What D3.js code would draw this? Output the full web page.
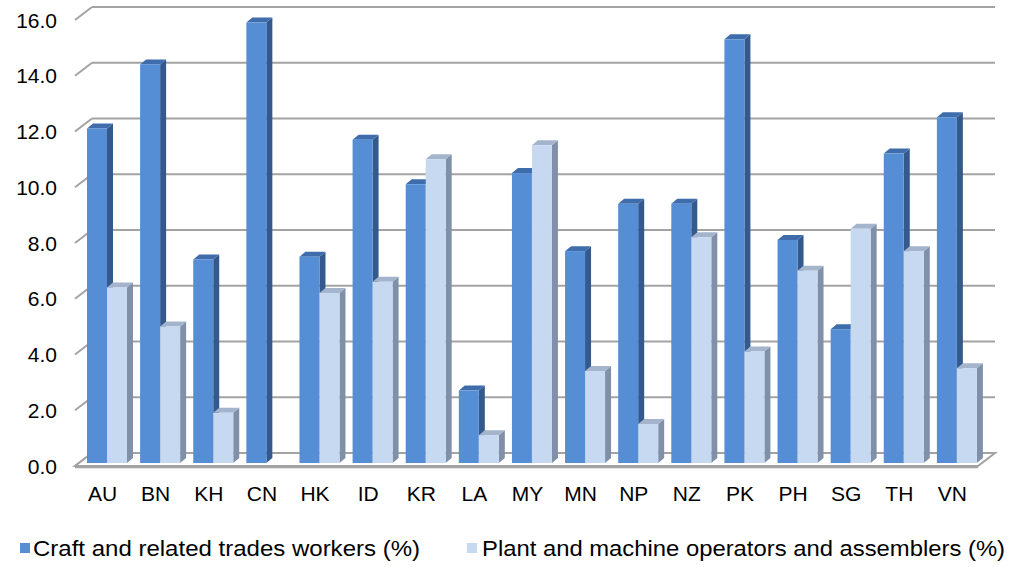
<!DOCTYPE html>
<html><head><meta charset="utf-8">
<script src="https://cdn.jsdelivr.net/npm/d3@7"></script>
<style>body{margin:0;background:#fff}svg{display:block}text{font-family:"Liberation Sans",Arial,sans-serif;fill:#000}</style>
</head><body>
<svg id="c" width="1011" height="567"></svg>
<script>
const categories = ["AU","BN","KH","CN","HK","ID","KR","LA","MY","MN","NP","NZ","PK","PH","SG","TH","VN"];
const craft = [12.0,14.3,7.3,15.8,7.4,11.6,10.0,2.6,10.4,7.6,9.3,9.3,15.2,8.0,4.8,11.1,12.4];
const plant = [6.3,4.9,1.8,null,6.1,6.5,10.9,1.0,11.4,3.3,1.4,8.1,4.0,6.9,8.4,7.6,3.4];
const seriesNames = ["Craft and related trades workers (%)","Plant and machine operators and assemblers (%)"];
const yTicks = [0,2,4,6,8,10,12,14,16];

const svg = d3.select("#c");
const X0 = 75, X1 = 978, Y0 = 466, Y16 = 20;
const D = {dx:17, dy:-13};          // wall depth
const B0 = {dx:4, dy:-3};           // bar front depth
const BD = {dx:6, dy:-5};           // bar depth
const x = d3.scaleBand().domain(categories).range([X0, X1]);
const y = d3.scaleLinear().domain([0,16]).range([Y0, Y16]);
const inner = d3.scaleBand().domain([0,1]).range([8, 48]);

const colors = [
  {front:"#558ED5", side:"#34598C", top:"#3F6CAB"},
  {front:"#C6D9F1", side:"#8090A8", top:"#A3B4CC"}
];

// gridlines (back wall) + left wall diagonals
const g = svg.append("g");
yTicks.forEach(v => {
  g.append("line").attr("x1", X0+D.dx).attr("x2", X1+D.dx)
    .attr("y1", y(v)+D.dy).attr("y2", y(v)+D.dy)
    .attr("stroke", "#a3a3a3").attr("stroke-width", 2);
  g.append("line").attr("x1", X0).attr("x2", X0+D.dx)
    .attr("y1", y(v)).attr("y2", y(v)+D.dy)
    .attr("stroke", "#a3a3a3").attr("stroke-width", 2);
  g.append("text").attr("x", 57).attr("y", y(v)).attr("dy", "0.36em")
    .attr("text-anchor", "end").style("font-size", "21px").text(v.toFixed(1));
});
// floor
g.append("path")
  .attr("d", `M${X0},${Y0}L${X1},${Y0}L${X1+D.dx},${Y0+D.dy}L${X0+D.dx},${Y0+D.dy}Z`)
  .attr("fill", "#fff").attr("stroke", "#a3a3a3").attr("stroke-width", 2);
g.append("line").attr("x1", X0).attr("x2", X1).attr("y1", Y0+1).attr("y2", Y0+1)
  .attr("stroke", "#a3a3a3").attr("stroke-width", 2.5);

// bars
const bars = svg.append("g");
const bw = inner.bandwidth();
categories.forEach((c, i) => {
  [craft[i], plant[i]].forEach((v, s) => {
    if (v == null) return;
    const xl = x(c) + inner(s) + B0.dx, xr = xl + bw;
    const yb = y(0) + B0.dy, yt = y(v) + B0.dy;
    const col = colors[s];
    bars.append("path").attr("fill", col.side)
      .attr("d", `M${xr},${yb}L${xr+BD.dx},${yb+BD.dy}L${xr+BD.dx},${yt+BD.dy}L${xr},${yt}Z`);
    bars.append("path").attr("fill", col.top)
      .attr("d", `M${xl},${yt}L${xr},${yt}L${xr+BD.dx},${yt+BD.dy}L${xl+BD.dx},${yt+BD.dy}Z`);
    bars.append("rect").attr("fill", col.front)
      .attr("x", xl).attr("y", yt).attr("width", bw).attr("height", yb - yt);
  });
});

// category labels
svg.append("g").selectAll("text").data(categories).join("text")
  .attr("x", d => x(d) + x.bandwidth()/2 + 1).attr("y", 501)
  .attr("text-anchor", "middle").style("font-size", "21px").text(d => d);

// legend
const leg = [{mx:20, tx:33, tw:387}, {mx:467, tx:482, tw:523}];
seriesNames.forEach((n, s) => {
  svg.append("rect").attr("x", leg[s].mx).attr("y", 543).attr("width", 10).attr("height", 10)
    .attr("fill", colors[s].front);
  svg.append("text").attr("x", leg[s].tx).attr("y", 556).style("font-size", "22px")
    .attr("textLength", leg[s].tw).attr("lengthAdjust", "spacingAndGlyphs").text(n);
});
</script>
</body></html>
